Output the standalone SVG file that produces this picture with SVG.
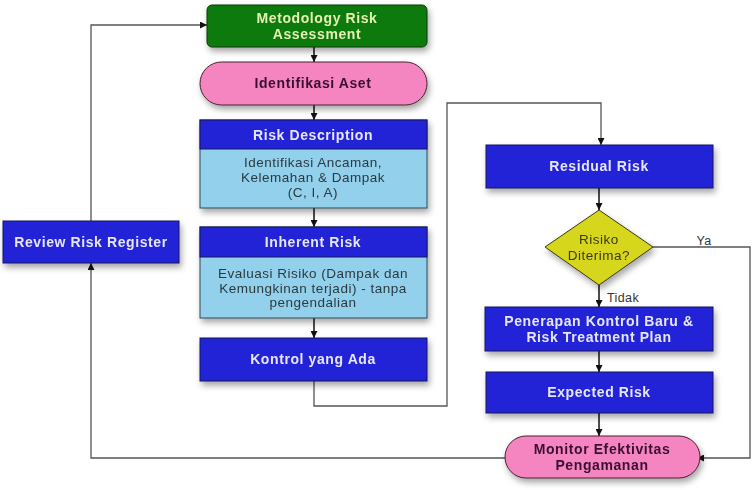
<svg xmlns="http://www.w3.org/2000/svg" width="754" height="490" viewBox="0 0 754 490">
<style>
text{font-family:"Liberation Sans",Arial,sans-serif;text-anchor:middle;dominant-baseline:central}
.h{font-weight:bold;font-size:14px;letter-spacing:0.6px;fill:#e6e6ff}
.g{font-weight:bold;font-size:14px;letter-spacing:0.6px;fill:#e6f0b0}
.p{font-weight:bold;font-size:14px;letter-spacing:0.6px;fill:#3a1030}
.b{font-size:13.5px;letter-spacing:0.5px;fill:#2a3a40}
.d{font-size:13.5px;letter-spacing:0.5px;fill:#3a3a10}
.l{font-size:12.5px;letter-spacing:0.4px;fill:#333}
.blue{fill:#2323d6;stroke:#151560;stroke-width:1}
.lite{fill:#92d0ec;stroke:#2a4a5a;stroke-width:1}
.pink{fill:#f585c0;stroke:#4a2030;stroke-width:1}
.c{fill:none;stroke:#555;stroke-width:1.3}
.k{fill:none;stroke:#111;stroke-width:1.5}
</style>
<defs>
<filter id="sh" x="-10%" y="-20%" width="125%" height="160%">
<feDropShadow dx="2" dy="4" stdDeviation="3" flood-color="#000" flood-opacity="0.35"/>
</filter>
<marker id="a" viewBox="0 0 10 10" refX="10" refY="5" markerWidth="7" markerHeight="7" markerUnits="userSpaceOnUse" orient="auto">
<path d="M0,0L10,5L0,10z" fill="#111"/>
</marker>
</defs>
<rect width="754" height="490" fill="#fff"/>
<g id="connectors">
<path class="k" d="M314,47V62" marker-end="url(#a)"/>
<path class="k" d="M314,105V120" marker-end="url(#a)"/>
<path class="k" d="M314,208V227" marker-end="url(#a)"/>
<path class="k" d="M314,318V338" marker-end="url(#a)"/>
<path class="c" d="M314,381V406H447V103H601V145" marker-end="url(#a)"/>
<path class="k" d="M599,188V210" marker-end="url(#a)"/>
<path class="k" d="M599,285V307" marker-end="url(#a)"/>
<path class="k" d="M599,351V372" marker-end="url(#a)"/>
<path class="k" d="M599,413V436" marker-end="url(#a)"/>
<path class="c" d="M653,247H750V458H697" marker-end="url(#a)"/>
<path class="c" d="M505,458H91V263" marker-end="url(#a)"/>
<path class="c" d="M91,221V25H207" marker-end="url(#a)"/>
<text class="l" x="704" y="241">Ya</text>
<text class="l" x="623" y="298">Tidak</text>
</g>
<g id="metodology" filter="url(#sh)">
<rect x="207" y="5" width="220" height="42" rx="5" fill="#0b7a10" stroke="#0a3a0a"/>
<text class="g" x="317" y="18">Metodology Risk</text>
<text class="g" x="317" y="34">Assessment</text>
</g>
<g id="identifikasi" filter="url(#sh)">
<rect class="pink" x="200" y="62" width="227" height="43" rx="21.5"/>
<text class="p" x="313" y="83">Identifikasi Aset</text>
</g>
<g id="riskdesc" filter="url(#sh)">
<rect class="lite" x="200" y="120" width="227" height="88"/>
<rect class="blue" x="200" y="120" width="227" height="29"/>
<text class="h" x="313" y="135">Risk Description</text>
<text class="b" x="313" y="162">Identifikasi Ancaman,</text>
<text class="b" x="313" y="177">Kelemahan &amp; Dampak</text>
<text class="b" x="313" y="192">(C, I, A)</text>
</g>
<g id="inherent" filter="url(#sh)">
<rect class="lite" x="200" y="227" width="227" height="91"/>
<rect class="blue" x="200" y="227" width="227" height="30"/>
<text class="h" x="313" y="242">Inherent Risk</text>
<text class="b" x="313" y="273">Evaluasi Risiko (Dampak dan</text>
<text class="b" x="313" y="288">Kemungkinan terjadi) - tanpa</text>
<text class="b" x="313" y="302">pengendalian</text>
</g>
<g id="kontrol" filter="url(#sh)">
<rect class="blue" x="200" y="338" width="227" height="43"/>
<text class="h" x="313" y="359">Kontrol yang Ada</text>
</g>
<g id="residual" filter="url(#sh)">
<rect class="blue" x="486" y="145" width="227" height="43"/>
<text class="h" x="599" y="166">Residual Risk</text>
</g>
<g id="diterima" filter="url(#sh)">
<path d="M599,210L653,247L599,285L545,247z" fill="#d6d61e" stroke="#3a3a10"/>
<text class="d" x="599" y="239">Risiko</text>
<text class="d" x="599" y="255">Diterima?</text>
</g>
<g id="penerapan" filter="url(#sh)">
<rect class="blue" x="485" y="307" width="228" height="44"/>
<text class="h" x="599" y="321">Penerapan Kontrol Baru &amp;</text>
<text class="h" x="599" y="337">Risk Treatment Plan</text>
</g>
<g id="expected" filter="url(#sh)">
<rect class="blue" x="486" y="372" width="227" height="41"/>
<text class="h" x="599" y="392">Expected Risk</text>
</g>
<g id="monitor" filter="url(#sh)">
<rect class="pink" x="505" y="436" width="195" height="42" rx="21"/>
<text class="p" x="602" y="449">Monitor Efektivitas</text>
<text class="p" x="602" y="465">Pengamanan</text>
</g>
<g id="review" filter="url(#sh)">
<rect class="blue" x="3" y="221" width="176" height="42"/>
<text class="h" x="91" y="242">Review Risk Register</text>
</g>
</svg>
